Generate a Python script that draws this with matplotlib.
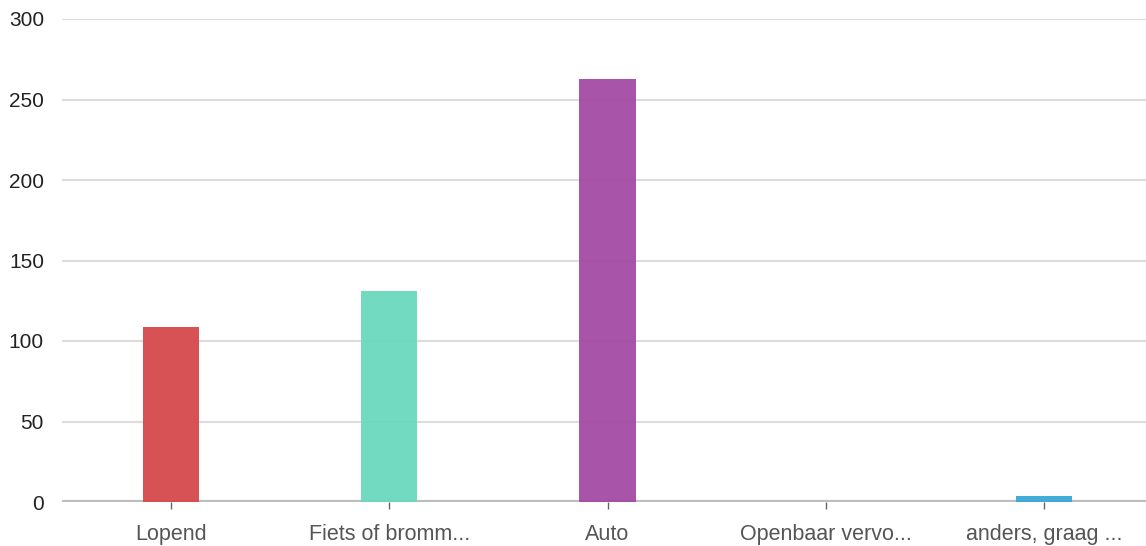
import matplotlib
matplotlib.use("Agg")
import matplotlib.pyplot as plt

categories = ["Lopend", "Fiets of bromm...", "Auto", "Openbaar vervo...", "anders, graag ..."]
values = [109, 131, 263, 0, 4]
colors = ["#d5494b", "#69d8be", "#a34ba3", "#8bc34a", "#3aa8d6"]
yticks = [0, 50, 100, 150, 200, 250, 300]

plt.rcParams['font.family'] = ['Liberation Sans', 'DejaVu Sans']

fig = plt.figure(figsize=(11.46, 5.46), dpi=100)
ax = fig.add_axes([62/1146, 44/546, 1 - 62/1146, (502-19)/546])

x = list(range(len(categories)))
ax.bar(x, values, width=0.257, color=colors, alpha=0.95, zorder=3)

ax.set_xlim(-0.4994, 4.467)
ax.set_ylim(0, 300)
ax.set_yticks(yticks)
ax.set_yticklabels([str(v) for v in yticks], fontsize=15, color="#222222")
ax.set_xticks(x)
ax.set_xticklabels(categories, fontsize=15.5, color="#555555")

ax.grid(axis='y', color="#dcdcdc", linewidth=1.5, zorder=0)
ax.axhline(0, color="#bdbdbd", linewidth=3, zorder=2)
for s in ax.spines.values():
    s.set_visible(False)
ax.tick_params(axis='y', length=0, pad=13)
ax.tick_params(axis='x', length=5, color="#666666", width=1, pad=11, direction='out')

fig.savefig("out.png", dpi=100)
